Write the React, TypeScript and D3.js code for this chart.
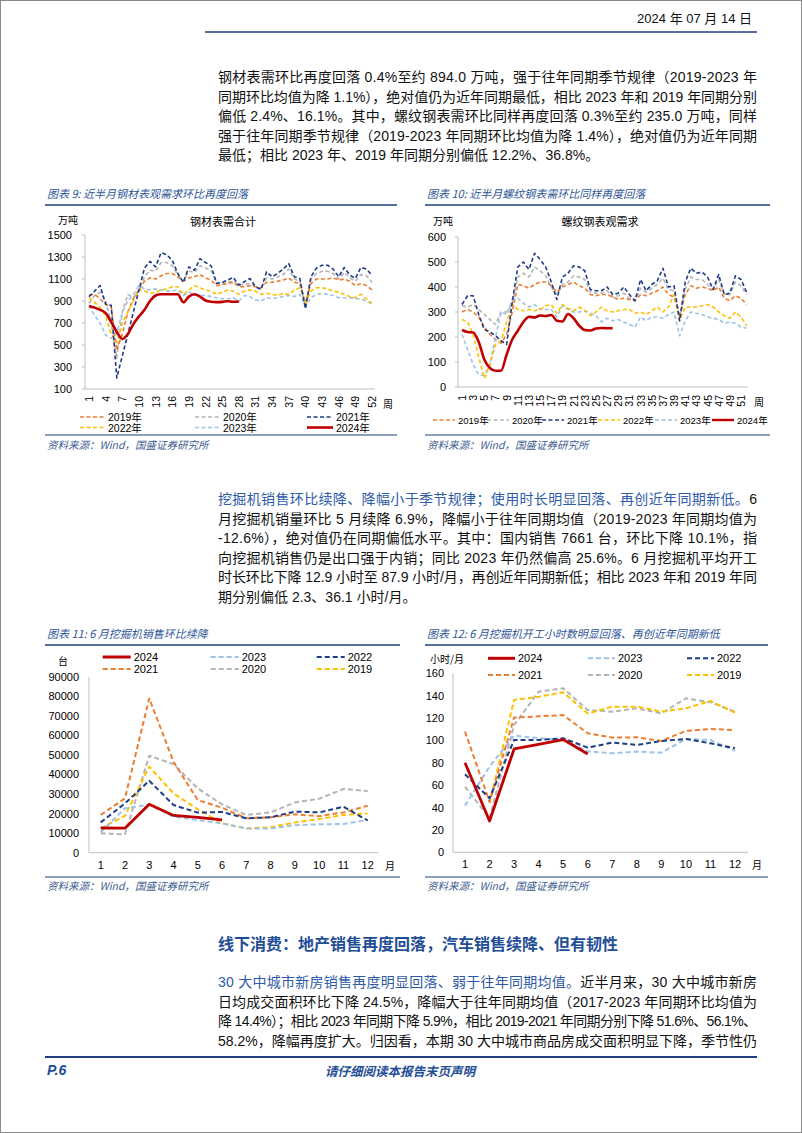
import React from "react";
import * as d3 from "d3";

// ---------- DATA ----------
const weeks = d3.range(1, 53);
const weekTicks9 = d3.range(1, 53, 3);
const weekTicks10 = d3.range(1, 52, 2);
const months = d3.range(1, 13);

const yTicks9 = [100, 300, 500, 700, 900, 1100, 1300, 1500];
const yTicks10 = [0, 100, 200, 300, 400, 500, 600];
const yTicks11 = [0, 10000, 20000, 30000, 40000, 50000, 60000, 70000, 80000, 90000];
const yTicks12 = [0, 20, 40, 60, 80, 100, 120, 140, 160];

// Chart 9: 钢材表需合计 (万吨)
const steel2019 = [955,960,920,870,850,450,600,800,920,1000,1080,1110,1100,1130,1150,1150,1120,1080,1110,1120,1140,1110,1090,1040,1050,1060,1070,1030,1030,1040,1030,1020,1070,1070,1080,1090,1110,1070,1060,880,1060,1100,1100,1100,1110,1090,1100,1080,1040,1060,1040,1000];
const steel2020 = [880,950,980,900,700,380,800,960,930,1000,1120,1180,1170,1250,1250,1220,1140,1080,1170,1160,1220,1200,1180,1060,1060,1070,1080,1040,1050,1060,1030,1010,1110,1100,1120,1140,1190,1100,1080,850,1100,1150,1170,1170,1150,1100,1160,1110,1080,1140,1130,1070];
const steel2021 = [940,990,1040,870,860,200,400,600,800,1000,1200,1260,1210,1340,1320,1270,1150,1070,1210,1180,1285,1250,1220,1060,1070,1090,1115,1045,1075,1105,1030,1005,1165,1120,1150,1190,1240,1120,1105,830,1120,1200,1225,1225,1190,1120,1205,1135,1105,1205,1190,1135];
const steel2022 = [930,890,840,760,600,520,700,800,900,1000,990,970,980,1000,1010,1030,1030,960,1000,1040,1020,1000,990,960,980,1000,990,960,990,1000,990,960,970,960,950,970,960,1000,1020,880,990,1020,1020,1010,990,980,960,940,930,960,920,880];
const steel2023 = [860,770,700,590,560,600,800,900,960,1040,1010,1000,1010,1000,990,990,1000,950,980,960,950,950,940,930,920,920,930,900,950,940,910,900,930,920,930,940,950,940,960,850,930,960,970,960,950,930,930,930,920,920,900,870];
const steel2024 = [855,840,820,790,710,620,555,600,690,760,820,900,950,962,962,962,962,888,940,962,940,905,893,890,892,898,893,894];

// Chart 10: 螺纹钢表观需求 (万吨)
const rebar2019 = [300,310,300,280,240,210,190,175,210,300,410,405,395,410,420,420,405,380,400,410,420,405,395,370,365,370,370,360,350,355,350,345,370,365,375,385,400,370,360,280,370,405,395,400,395,385,400,355,345,365,355,330];
const rebar2020 = [325,320,330,310,290,270,250,300,300,330,440,455,440,480,465,445,400,370,410,420,445,440,430,380,375,375,385,360,365,375,355,345,395,380,395,410,435,390,385,280,390,440,430,430,410,390,430,370,370,420,405,370];
const rebar2021 = [330,365,365,290,230,220,205,185,170,340,480,500,470,535,510,480,420,350,440,455,485,480,465,390,385,385,400,370,375,400,370,345,430,385,410,425,475,400,405,265,420,475,455,460,440,390,450,370,375,445,430,380];
const rebar2022 = [270,260,210,120,35,90,170,185,260,330,310,305,310,305,310,325,330,295,330,315,305,320,305,285,300,320,305,300,305,310,310,295,300,290,305,320,300,320,370,265,320,320,320,325,330,320,300,285,275,300,280,245];
const rebar2023 = [210,150,90,50,45,90,200,300,290,350,355,335,320,330,310,310,310,280,325,310,300,300,305,295,285,260,275,265,270,260,250,240,280,265,280,280,275,290,300,205,265,300,295,290,280,275,270,255,260,255,240,235];
const rebar2024 = [228,220,218,180,110,76,65,65,130,190,225,260,281,278,286,284,288,265,262,292,275,245,228,226,234,236,235,235];

// Chart 11: 挖掘机销量 (台)
const exc2024 = [12637,12548,24797,19045,18083,16760];
const exc2023 = [10500,22700,24500,18400,16700,15000,12400,12400,14100,14500,14700,16700];
const exc2022 = [15500,25200,36800,24400,20500,20800,17600,18100,21000,20600,23500,16500];
const exc2021 = [19300,27800,78900,46500,26900,23000,17600,18100,19600,18700,20600,24000];
const exc2020 = [9900,9400,49600,45300,32900,24700,19300,20600,25700,27600,32600,31500];
const exc2019 = [12400,18900,44000,30300,22200,15000,12400,13000,15500,17200,19300,20100];

// Chart 12: 挖掘机开工小时 (小时/月)
const hrs2024 = [80.1,28,92.4,96.5,100.8,87.9];
const hrs2023 = [41.7,76.6,104.3,102,100.4,90.2,88.5,90,89,101.3,100.4,90.6];
const hrs2022 = [69.7,48.3,100.4,100.4,101.9,93.6,98,96,99.5,101.3,97.4,93];
const hrs2021 = [107.9,45,120.4,121.5,122.7,106.4,102.5,102.8,99.5,108.5,110.2,109.3];
const hrs2020 = [58.7,30.4,113.8,143.6,146.6,127.2,125.7,128.7,124.2,137.6,134.1,125.7];
const hrs2019 = [null,44,136.2,139,143,124,130.2,130.2,125.7,128.7,135.3,124.8];

// ---------- TEXT ----------
type Seg = { t: string; blue?: boolean };
const para1: Seg[][] = [
  [{ t: "钢材表需环比再度回落 0.4%至约 894.0 万吨，强于往年同期季节规律（2019-2023 年" }],
  [{ t: "同期环比均值为降 1.1%），绝对值仍为近年同期最低，相比 2023 年和 2019 年同期分别" }],
  [{ t: "偏低 2.4%、16.1%。其中，螺纹钢表需环比同样再度回落 0.3%至约 235.0 万吨，同样" }],
  [{ t: "强于往年同期季节规律（2019-2023 年同期环比均值为降 1.4%），绝对值仍为近年同期" }],
  [{ t: "最低；相比 2023 年、2019 年同期分别偏低 12.2%、36.8%。" }],
];
const para2: Seg[][] = [
  [{ t: "挖掘机销售环比续降、降幅小于季节规律；使用时长明显回落、再创近年同期新低。", blue: true }, { t: "6" }],
  [{ t: "月挖掘机销量环比 5 月续降 6.9%，降幅小于往年同期均值（2019-2023 年同期均值为" }],
  [{ t: "-12.6%），绝对值仍在同期偏低水平。其中：国内销售 7661 台，环比下降 10.1%，指" }],
  [{ t: "向挖掘机销售仍是出口强于内销；同比 2023 年仍然偏高 25.6%。6 月挖掘机平均开工" }],
  [{ t: "时长环比下降 12.9 小时至 87.9 小时/月，再创近年同期新低；相比 2023 年和 2019 年同" }],
  [{ t: "期分别偏低 2.3、36.1 小时/月。" }],
];
const para3: Seg[][] = [
  [{ t: "30 大中城市新房销售再度明显回落、弱于往年同期均值。", blue: true }, { t: "近半月来，30 大中城市新房" }],
  [{ t: "日均成交面积环比下降 24.5%，降幅大于往年同期均值（2017-2023 年同期环比均值为" }],
  [{ t: "降 14.4%）；相比 2023 年同期下降 5.9%，相比 2019-2021 年同期分别下降 51.6%、56.1%、" }],
  [{ t: "58.2%，降幅再度扩大。归因看，本期 30 大中城市商品房成交面积明显下降，季节性仍" }],
];

// ---------- STYLE ----------
const CN = "'Noto Sans CJK SC', sans-serif";
const NUM = "'Liberation Sans', Arial, 'Noto Sans CJK SC', sans-serif";
const BODY = "'Liberation Sans Narrow', 'Liberation Sans', 'Noto Sans CJK SC', sans-serif";
const NAVY_RULE = "#1F3F7F";
const TITLE_BLUE = "#2F5597";
const C19 = "#ED7D31", C20 = "#B4B4B4", C21 = "#1F3C88", C22 = "#FFC000", C23 = "#9DC3E6", C24 = "#C00000";

type S = { name: string; color: string; values: (number | null)[]; solid?: boolean };

interface ChartCfg {
  cats: number[];
  xRange: [number, number];
  axisEnd: number;
  yAxisX: number;
  yDomain: [number, number];
  yRange: [number, number];
  yTicks: number[];
  yLabelX: number;
  tickMarks: boolean;
  xTicks: number[];
  xLabelY: number;
  rotate: boolean;
  series: S[];
  dash: string;
  width: number;
  redWidth: number;
  smoothRed: boolean;
  fontSize: number;
}

function LineChart({ c }: { c: ChartCfg }) {
  const x = d3.scalePoint<number>().domain(c.cats).range(c.xRange);
  const y = d3.scaleLinear().domain(c.yDomain).range(c.yRange);
  return (
    <g>
      <line x1={c.yAxisX} x2={c.yAxisX} y1={c.yRange[1]} y2={c.yRange[0]} stroke="#BFBFBF" strokeWidth={1} />
      <line x1={c.yAxisX} x2={c.axisEnd} y1={c.yRange[0]} y2={c.yRange[0]} stroke="#BFBFBF" strokeWidth={1} />
      {c.yTicks.map((t) => (
        <g key={t}>
          {c.tickMarks && <line x1={c.yAxisX - 3} x2={c.yAxisX} y1={y(t)} y2={y(t)} stroke="#BFBFBF" />}
          <text x={c.yLabelX} y={y(t)} textAnchor="end" dominantBaseline="central" fontFamily={NUM} fontSize={c.fontSize} fill="#000">
            {t}
          </text>
        </g>
      ))}
      {c.xTicks.map((t) =>
        c.rotate ? (
          <text key={t} transform={`translate(${x(t)},${c.xLabelY}) rotate(-90)`} textAnchor="end" dominantBaseline="central" fontFamily={NUM} fontSize={c.fontSize - 0.5} fill="#000">
            {t}
          </text>
        ) : (
          <text key={t} x={x(t)} y={c.xLabelY} textAnchor="middle" dominantBaseline="central" fontFamily={NUM} fontSize={c.fontSize} fill="#000">
            {t}
          </text>
        )
      )}
      {c.series.map((s) => {
        const pts = s.values.map((v, i) => [c.cats[i], v] as [number, number | null]);
        const gen = d3
          .line<[number, number | null]>()
          .defined((d) => d[1] != null)
          .x((d) => x(d[0]) as number)
          .y((d) => y(d[1] as number))
          .curve(s.solid && c.smoothRed ? d3.curveMonotoneX : d3.curveLinear);
        return (
          <path
            key={s.name}
            d={gen(pts) || ""}
            fill="none"
            stroke={s.color}
            strokeWidth={s.solid ? c.redWidth : c.width}
            strokeDasharray={s.solid ? undefined : c.dash}
            strokeLinejoin="round"
          />
        );
      })}
    </g>
  );
}

function LegendItem({ x, y, len, s, dash, width, fontSize, gap }: { x: number; y: number; len: number; s: S; dash: string; width: number; fontSize: number; gap: number }) {
  return (
    <g>
      <line x1={x} x2={x + len} y1={y} y2={y} stroke={s.color} strokeWidth={s.solid ? width + 1 : width} strokeDasharray={s.solid ? undefined : dash} />
      <text x={x + len + gap} y={y} dominantBaseline="central" fontFamily={NUM} fontSize={fontSize} fill="#000">
        {s.name}
      </text>
    </g>
  );
}

function Para({ lines, y0, step, justifyLast }: { lines: Seg[][]; y0: number; step: number; justifyLast?: boolean }) {
  return (
    <g>
      {lines.map((segs, i) => {
        const justify = i < lines.length - 1 || justifyLast;
        return (
          <text
            key={i}
            x={218}
            y={y0 + i * step}
            dominantBaseline="central"
            fontFamily={BODY}
            fontSize={14}
            fill="#111"
            textLength={justify ? 539 : undefined}
            lengthAdjust="spacing"
          >
            {segs.map((s, j) => (
              <tspan key={j} fill={s.blue ? "#2E5AA8" : "#111"}>
                {s.t}
              </tspan>
            ))}
          </text>
        );
      })}
    </g>
  );
}

function ChartFrame({ x0, x1, titleY, ruleY, title, srcRuleY, srcY }: { x0: number; x1: number; titleY: number; ruleY: number; title: string; srcRuleY: number; srcY: number }) {
  return (
    <g>
      <text x={x0 + 2} y={titleY} dominantBaseline="central" fontFamily={CN} fontStyle="italic" fontSize={11} fill={TITLE_BLUE}>
        {title}
      </text>
      <line x1={x0} x2={x1} y1={ruleY} y2={ruleY} stroke={NAVY_RULE} strokeWidth={1.6} />
      <line x1={x0} x2={x1} y1={srcRuleY} y2={srcRuleY} stroke={NAVY_RULE} strokeWidth={1.2} />
      <text x={x0 + 2} y={srcY} dominantBaseline="central" fontFamily={CN} fontStyle="italic" fontSize={10.5} fill="#3D5C8F">
        资料来源：Wind，国盛证券研究所
      </text>
    </g>
  );
}

export default function App() {
  const s9: S[] = [
    { name: "2019年", color: C19, values: steel2019 },
    { name: "2020年", color: C20, values: steel2020 },
    { name: "2021年", color: C21, values: steel2021 },
    { name: "2022年", color: C22, values: steel2022 },
    { name: "2023年", color: C23, values: steel2023 },
    { name: "2024年", color: C24, values: steel2024, solid: true },
  ];
  const s10: S[] = [
    { name: "2019年", color: C19, values: rebar2019 },
    { name: "2020年", color: C20, values: rebar2020 },
    { name: "2021年", color: C21, values: rebar2021 },
    { name: "2022年", color: C22, values: rebar2022 },
    { name: "2023年", color: C23, values: rebar2023 },
    { name: "2024年", color: C24, values: rebar2024, solid: true },
  ];
  const s11: S[] = [
    { name: "2020", color: C20, values: exc2020 },
    { name: "2019", color: C22, values: exc2019 },
    { name: "2023", color: C23, values: exc2023 },
    { name: "2021", color: C19, values: exc2021 },
    { name: "2022", color: C21, values: exc2022 },
    { name: "2024", color: C24, values: exc2024, solid: true },
  ];
  const s12: S[] = [
    { name: "2020", color: C20, values: hrs2020 },
    { name: "2019", color: C22, values: hrs2019 },
    { name: "2023", color: C23, values: hrs2023 },
    { name: "2021", color: C19, values: hrs2021 },
    { name: "2022", color: C21, values: hrs2022 },
    { name: "2024", color: C24, values: hrs2024, solid: true },
  ];
  const byName = (arr: S[], n: string) => arr.find((s) => s.name === n) as S;

  const c9: ChartCfg = {
    cats: weeks, xRange: [89, 372], axisEnd: 375, yAxisX: 85, yDomain: [100, 1500], yRange: [389, 235],
    yTicks: yTicks9, yLabelX: 72, tickMarks: true, xTicks: weekTicks9, xLabelY: 396, rotate: true,
    series: [s9[1], s9[0], s9[4], s9[3], s9[2], s9[5]], dash: "4 2.5", width: 1.6, redWidth: 2.6, smoothRed: true, fontSize: 11,
  };
  const c10: ChartCfg = {
    cats: weeks, xRange: [462, 746.6], axisEnd: 748, yAxisX: 458, yDomain: [0, 600], yRange: [387, 237],
    yTicks: yTicks10, yLabelX: 446, tickMarks: true, xTicks: weekTicks10, xLabelY: 395, rotate: true,
    series: [s10[1], s10[0], s10[4], s10[3], s10[2], s10[5]], dash: "4 2.5", width: 1.6, redWidth: 2.6, smoothRed: true, fontSize: 11,
  };
  const c11: ChartCfg = {
    cats: months, xRange: [100.7, 367.7], axisEnd: 378, yAxisX: 89, yDomain: [0, 90000], yRange: [852.7, 676.7],
    yTicks: yTicks11, yLabelX: 79, tickMarks: false, xTicks: months, xLabelY: 865, rotate: false,
    series: s11, dash: "5 3", width: 2, redWidth: 2.8, smoothRed: false, fontSize: 11,
  };
  const c12: ChartCfg = {
    cats: months, xRange: [465, 735], axisEnd: 748, yAxisX: 453, yDomain: [0, 160], yRange: [852.3, 673.3],
    yTicks: yTicks12, yLabelX: 444, tickMarks: false, xTicks: months, xLabelY: 864, rotate: false,
    series: s12, dash: "5 3", width: 2, redWidth: 2.8, smoothRed: false, fontSize: 11,
  };

  return (
    <div style={{ position: "absolute", left: 0, top: 0 }}>
      <svg width={802} height={1133} viewBox="0 0 802 1133" style={{ display: "block", background: "#fff" }}>
        <rect x={0.5} y={0.5} width={801} height={1132} fill="#fff" stroke="#8a8a8a" strokeWidth={1} />

        {/* header */}
        <text x={752} y={18} textAnchor="end" dominantBaseline="central" fontFamily={BODY} fontSize={13} fill="#111">
          2024 年 07 月 14 日
        </text>
        <line x1={205} x2={757} y1={32} y2={32} stroke={NAVY_RULE} strokeWidth={1.6} />

        <Para lines={para1} y0={77} step={19.5} />

        {/* chart 9 */}
        <ChartFrame x0={45} x1={397} titleY={193} ruleY={205} title="图表 9:  近半月钢材表观需求环比再度回落" srcRuleY={435} srcY={444} />
        <text x={58} y={219} dominantBaseline="central" fontFamily={CN} fontSize={10} fill="#000">万吨</text>
        <text x={223} y={221} textAnchor="middle" dominantBaseline="central" fontFamily={CN} fontSize={11} fill="#000">钢材表需合计</text>
        <LineChart c={c9} />
        <text x={383} y={403} dominantBaseline="central" fontFamily={CN} fontSize={10} fill="#000">周</text>
        <LegendItem x={80} y={417} len={25} s={byName(s9, "2019年")} dash="4 2.5" width={1.6} fontSize={10.5} gap={3} />
        <LegendItem x={195} y={417} len={25} s={byName(s9, "2020年")} dash="4 2.5" width={1.6} fontSize={10.5} gap={3} />
        <LegendItem x={307} y={417} len={26} s={byName(s9, "2021年")} dash="4 2.5" width={1.6} fontSize={10.5} gap={3} />
        <LegendItem x={80} y={427.5} len={25} s={byName(s9, "2022年")} dash="4 2.5" width={1.6} fontSize={10.5} gap={3} />
        <LegendItem x={195} y={427.5} len={25} s={byName(s9, "2023年")} dash="4 2.5" width={1.6} fontSize={10.5} gap={3} />
        <LegendItem x={307} y={427.5} len={26} s={byName(s9, "2024年")} dash="4 2.5" width={1.6} fontSize={10.5} gap={3} />

        {/* chart 10 */}
        <ChartFrame x0={425} x1={770} titleY={193} ruleY={205} title="图表 10:  近半月螺纹钢表需环比同样再度回落" srcRuleY={435} srcY={444} />
        <text x={433} y={220} dominantBaseline="central" fontFamily={CN} fontSize={10} fill="#000">万吨</text>
        <text x={600} y={221} textAnchor="middle" dominantBaseline="central" fontFamily={CN} fontSize={11} fill="#000">螺纹钢表观需求</text>
        <LineChart c={c10} />
        <text x={754} y={401} dominantBaseline="central" fontFamily={CN} fontSize={10} fill="#000">周</text>
        {["2019年", "2020年", "2021年", "2022年", "2023年", "2024年"].map((n, i) => (
          <LegendItem key={n} x={[433, 487, 542, 598, 655, 712][i]} y={420} len={22} s={byName(s10, n)} dash="4 2.5" width={1.4} fontSize={9.5} gap={3} />
        ))}

        <Para lines={para2} y0={499} step={19.5} />

        {/* chart 11 */}
        <ChartFrame x0={45} x1={400} titleY={633} ruleY={645} title="图表 11:  6 月挖掘机销售环比续降" srcRuleY={877} srcY={885} />
        <text x={63} y={660} textAnchor="middle" dominantBaseline="central" fontFamily={CN} fontSize={10} fill="#000">台</text>
        <LineChart c={c11} />
        <text x={385} y={865} dominantBaseline="central" fontFamily={CN} fontSize={10} fill="#000">月</text>
        {[
          ["2024", 102.7, 657], ["2023", 210.7, 657], ["2022", 316.7, 657],
          ["2021", 102.7, 669], ["2020", 210.7, 669], ["2019", 316.7, 669],
        ].map(([n, lx, ly]) => (
          <LegendItem key={n as string} x={lx as number} y={ly as number} len={28} s={byName(s11, n as string)} dash="5 3" width={2} fontSize={11} gap={3} />
        ))}

        {/* chart 12 */}
        <ChartFrame x0={425} x1={768} titleY={633} ruleY={645} title="图表 12:  6 月挖掘机开工小时数明显回落、再创近年同期新低" srcRuleY={877} srcY={885} />
        <text x={430} y={658} dominantBaseline="central" fontFamily={CN} fontSize={10} fill="#000">小时/月</text>
        <LineChart c={c12} />
        <text x={752} y={864} dominantBaseline="central" fontFamily={CN} fontSize={10} fill="#000">月</text>
        {[
          ["2024", 488, 658.3], ["2023", 588, 658.3], ["2022", 687, 658.3],
          ["2021", 488, 675], ["2020", 588, 675], ["2019", 687, 675],
        ].map(([n, lx, ly]) => (
          <LegendItem key={n as string} x={lx as number} y={ly as number} len={27} s={byName(s12, n as string)} dash="5 3" width={2} fontSize={11} gap={3} />
        ))}

        {/* section heading */}
        <text x={218} y={943} dominantBaseline="central" fontFamily={CN} fontWeight="bold" fontSize={16} fill="#1F4E96">
          线下消费：地产销售再度回落，汽车销售续降、但有韧性
        </text>
        <Para lines={para3} y0={982} step={19.5} justifyLast />

        {/* footer */}
        <line x1={45} x2={757} y1={1057} y2={1057} stroke={NAVY_RULE} strokeWidth={2} />
        <text x={47} y={1070} dominantBaseline="central" fontFamily={NUM} fontStyle="italic" fontWeight="bold" fontSize={14} fill="#1F4E96">P.6</text>
        <text x={400} y={1070} textAnchor="middle" dominantBaseline="central" fontFamily={CN} fontStyle="italic" fontWeight="bold" fontSize={12.5} fill="#1F4E96">
          请仔细阅读本报告末页声明
        </text>
      </svg>
    </div>
  );
}
